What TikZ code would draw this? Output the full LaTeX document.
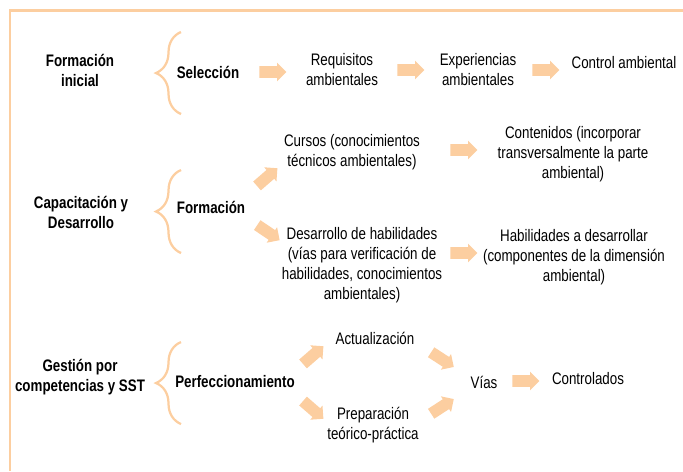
\documentclass[tikz,border=0pt]{standalone}
\usepackage{fontspec}
\setmainfont[FakeStretch=0.8]{Liberation Sans}
\usepackage{tikz}
\usetikzlibrary{arrows,shapes,positioning,decorations.pathreplacing}

\definecolor{naranja}{RGB}{252,206,160}

\tikzset{
	texto/.style={align=center, inner sep=1pt, font=\fontsize{9.5}{11.4}\selectfont},
	negrita/.style={texto, font=\fontsize{9.5}{11.4}\selectfont\bfseries},
	flecha/.style={single arrow, fill=naranja, draw=none, inner xsep=0pt, inner ysep=0.11cm,
		minimum height=0.54cm, single arrow head extend=0.07cm},
	llave/.style={naranja, line width=0.045cm, decorate, decoration={brace, amplitude=0.5cm}},
	marco/.style={naranja, line width=0.06cm}
}

\begin{document}
\begin{tikzpicture}[x=0.02cm, y=-0.02cm]
			\useasboundingbox (0,0) rectangle (683,471);
			% Marco
			\draw[marco] (10,471) -- (10,10) -- (683,10);
			
			% Formacion inicial
			\node[negrita] (fi) at (80,70) {Formación\\inicial};
			\draw[llave] (181,114) -- (181,32);
			\node[negrita] (sel) at (208,72) {Selección};
			\node[flecha] (f1) at (270,72) {};
			\node[texto] (req) at (342,70) {Requisitos\\ambientales};
			\node[flecha] (f2) at (408,70) {};
			\node[texto] (exp) at (478,70) {Experiencias\\ambientales};
			\node[flecha] (f3) at (543,70) {};
			\node[texto] (ctrl) at (624,63) {Control ambiental};
			
			% Capacitacion y desarrollo
			\node[negrita] (cap) at (81,212) {Capacitación y\\Desarrollo};
			\draw[llave] (181,253) -- (181,170);
			\node[negrita] (form) at (211,207) {Formación};
			\node[flecha, rotate=41] (f4) at (265,179) {};
			\node[flecha, rotate=-34] (f5) at (266,231) {};
			\node[texto] (cur) at (352,152) {Cursos (conocimientos\\técnicos ambientales)};
			\node[flecha] (f6) at (461,150) {};
			\node[texto] (cont) at (573,154) {Contenidos (incorporar\\transversalmente la parte\\ambiental)};
			\node[texto] (des) at (362,265) {Desarrollo de habilidades\\(vías para verificación de\\habilidades, conocimientos\\ambientales)};
			\node[flecha] (f7) at (461,253) {};
			\node[texto] (hab) at (574,257) {Habilidades a desarrollar\\(componentes de la dimensión\\ambiental)};
			
			% Gestion por competencias
			\node[negrita] (ges) at (80,377) {Gestión por\\competencias y SST};
			\draw[llave] (181,424) -- (181,342);
			\node[negrita] (perf) at (235,382) {Perfeccionamiento};
			\node[flecha, rotate=41] (f8) at (311,357) {};
			\node[flecha, rotate=-41] (f9) at (311,408) {};
			\node[texto] (act) at (375,338) {Actualización};
			\node[texto] (prep) at (373,425) {Preparación\\teórico-práctica};
			\node[flecha, rotate=-33] (f10) at (440,358) {};
			\node[flecha, rotate=33] (f11) at (440,408) {};
			\node[texto] (vias) at (484,382) {Vías};
			\node[flecha] (f12) at (523,381) {};
			\node[texto] (contr) at (588,379) {Controlados};
		\end{tikzpicture}
\end{document}
